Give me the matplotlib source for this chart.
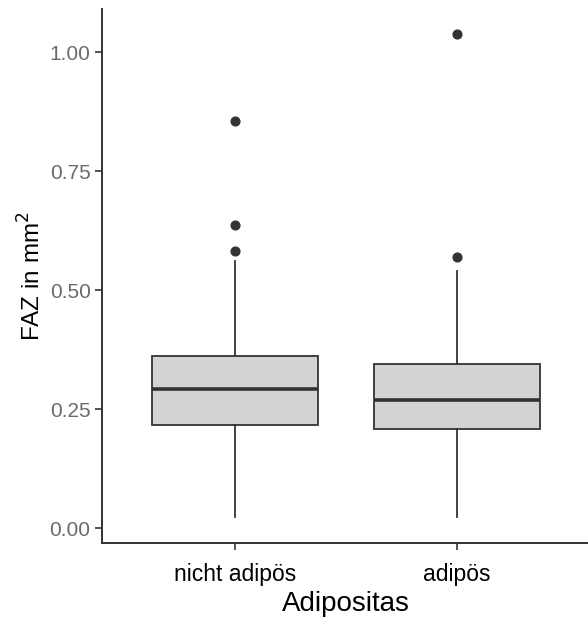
import matplotlib
matplotlib.use("Agg")
import matplotlib.pyplot as plt

plt.rcParams['font.family'] = ['Liberation Sans', 'DejaVu Sans']

# Boxplot summary values
groups = ["nicht adipös", "adipös"]
q1 = [0.217, 0.209]
medians = [0.292, 0.270]
q3 = [0.363, 0.345]
whisker_low = [0.023, 0.023]
whisker_high = [0.561, 0.540]
outliers = [[0.857, 0.637, 0.583], [1.039, 0.571]]

yticks = [0.00, 0.25, 0.50, 0.75, 1.00]

stats = []
for i, name in enumerate(groups):
    stats.append({
        "label": name,
        "q1": q1[i],
        "med": medians[i],
        "q3": q3[i],
        "whislo": whisker_low[i],
        "whishi": whisker_high[i],
        "fliers": outliers[i],
    })

fig = plt.figure(figsize=(5.88, 6.23), dpi=100)
ax = fig.add_axes([0.173, 0.128, 0.831, 0.858])

dark = "#333333"
ax.bxp(stats, positions=[1, 2], widths=0.75, patch_artist=True, showcaps=False,
       boxprops=dict(facecolor="#D3D3D3", edgecolor=dark, linewidth=1.3),
       medianprops=dict(color=dark, linewidth=2.6),
       whiskerprops=dict(color=dark, linewidth=1.3),
       flierprops=dict(marker="o", markerfacecolor=dark, markeredgecolor=dark,
                       markersize=6.3))

ax.set_xlim(0.4, 2.6)
ax.set_ylim(-0.0315, 1.092)
ax.set_yticks(yticks)
ax.set_yticklabels([f"{v:.2f}" for v in yticks])
ax.set_xticks([1, 2])
ax.set_xticklabels(groups)

for side in ["top", "right"]:
    ax.spines[side].set_visible(False)
for side in ["left", "bottom"]:
    ax.spines[side].set_color(dark)
    ax.spines[side].set_linewidth(1.4)

ax.tick_params(axis="both", color=dark, length=5, width=1.2)
ax.tick_params(axis="y", labelcolor="#6b6b6b", labelsize=15, pad=3)
ax.tick_params(axis="x", labelcolor="black", labelsize=16.5, pad=9)

ax.set_xlabel("Adipositas", fontsize=20, labelpad=4)
ax.set_ylabel("FAZ in mm$^2$", fontsize=17.5)
ax.yaxis.set_label_coords(-0.114, 0.5)

fig.savefig("out.png", dpi=100)
